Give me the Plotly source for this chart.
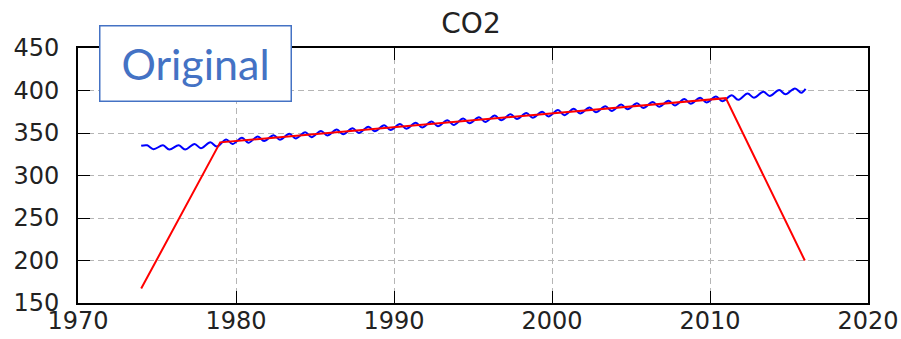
import plotly.graph_objects as go

# ---- data ----
years = list(range(1974, 2016))
# seasonal maximum (around May) and minimum (around October) of each year, ppm
co2_peak = [335.5, 335.5, 335.5, 337.0, 339.0, 342.5, 344.5, 346.0, 347.5, 349.0,
            351.0, 352.5, 354.0, 355.5, 357.5, 359.0, 360.5, 362.0, 363.5, 365.0,
            367.0, 368.5, 370.5, 372.0, 373.5, 375.0, 377.0, 378.5, 380.0, 381.5,
            383.5, 385.0, 386.5, 388.0, 390.0, 391.5, 393.0, 394.5, 396.5, 398.5,
            400.5, 402.5]
co2_trough = [331.0, 330.5, 330.5, 332.0, 334.0, 337.0, 338.5, 340.5, 342.0, 343.5,
              345.0, 347.0, 348.5, 350.0, 352.0, 353.5, 355.0, 356.5, 358.0, 359.5,
              361.5, 363.0, 365.0, 366.5, 368.0, 369.5, 371.0, 373.0, 374.5, 376.0,
              378.0, 379.5, 381.0, 382.5, 384.5, 386.0, 387.5, 389.0, 391.5, 393.5,
              395.5, 397.5]
start_year, start_co2 = 1974.0, 335.0
end_year, end_co2 = 2016.05, 402.0

red_year = [1974, 1979, 2011, 2016]
red_co2 = [167, 339, 391, 200]

x_ticks = [1970, 1980, 1990, 2000, 2010, 2020]
y_ticks = [150, 200, 250, 300, 350, 400, 450]

# build the monthly-like blue series from the listed seasonal extremes
blue_x = [start_year]
blue_y = [start_co2]
for yr, pk, tr in zip(years, co2_peak, co2_trough):
    blue_x += [yr + 0.38, yr + 0.78]
    blue_y += [pk, tr]
blue_x.append(end_year)
blue_y.append(end_co2)

fig = go.Figure()
fig.add_trace(go.Scatter(x=blue_x, y=blue_y, mode="lines",
                         line=dict(color="#0000ff", width=2, shape="spline", smoothing=1.0),
                         showlegend=False))
fig.add_trace(go.Scatter(x=red_year, y=red_co2, mode="lines",
                         line=dict(color="#ff0000", width=2),
                         showlegend=False))

axis_common = dict(
    showline=True, linecolor="black", linewidth=2, mirror="ticks",
    ticks="inside", ticklen=12, tickwidth=1, tickcolor="black",
    showgrid=True, gridcolor="#b5b5b5", gridwidth=1, griddash="6px,4px",
    zeroline=False, automargin=False,
    tickfont=dict(family="DejaVu Sans", size=24, color="#222222"),
)

fig.update_xaxes(range=[1970, 2020], tickvals=x_ticks, ticktext=[str(v) for v in x_ticks],
                 ticklabelstandoff=-5, **axis_common)
fig.update_yaxes(range=[150, 450], tickvals=y_ticks, ticktext=[str(v) for v in y_ticks],
                 ticklabelstandoff=12, **axis_common)

fig.update_layout(
    width=901, height=339,
    margin=dict(l=78, r=33, t=48, b=36),
    paper_bgcolor="white", plot_bgcolor="white",
    title=dict(text="CO2", x=471 / 901, xanchor="center",
               y=1 - 23 / 339, yanchor="middle",
               font=dict(family="DejaVu Sans", size=28, color="#222222")),
    annotations=[dict(
        text="Original", xref="paper", yref="paper",
        x=(195 - 78) / 790, y=(303 - 63.5) / 255, xanchor="center", yanchor="middle",
        showarrow=False, width=190, height=74, borderpad=0,
        bgcolor="white", bordercolor="#4472c4", borderwidth=1.5,
        font=dict(family="Lato", size=43, color="#4472c4"),
    )],
)

fig.write_html("out.html")
